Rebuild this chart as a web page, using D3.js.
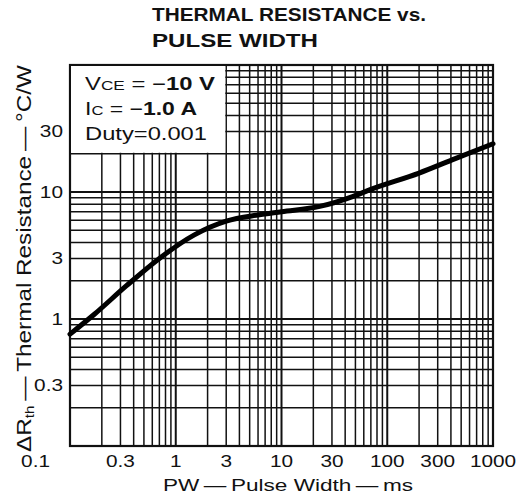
<!DOCTYPE html>
<html>
<head>
<meta charset="utf-8">
<script src="https://cdn.jsdelivr.net/npm/d3@7"></script>
<style>
  body { margin: 0; background: #fff; }
  text { font-family: "Liberation Sans", Arial, sans-serif; fill: #111; }
</style>
</head>
<body>
<div id="graph"></div>
<script>
// Curve (pulse width in ms, thermal resistance in °C/W)
const pulseWidth = [0.1, 0.17, 0.34, 0.7, 1.5, 3, 6, 10, 23, 47, 68, 200, 410, 1000];
const thermalRes = [0.76, 1.09, 1.82, 3.0, 4.6, 5.9, 6.6, 7.0, 7.7, 9.2, 10.4, 14.1, 17.9, 24];

const xTickLabels = ["0.3", "1", "3", "10", "30", "100", "300", "1000"];
const yTickLabels = ["0.3", "1", "3", "10", "30"];

const width = 521, height = 499;
const plotLeft = 70, plotRight = 493, plotTop = 65, plotBottom = 446;
const stretch = 1.3;   // the scanned sheet is wider than it is tall

var xscale = d3.scaleLog().domain([0.1, 1000]).range([plotLeft, plotRight]);
var yscale = d3.scaleLog().domain([0.1, 100]).range([plotBottom, plotTop]);

var chart = d3.select("#graph")
              .append("svg")
                .attr("width", width)
                .attr("height", height);

// grid lines 1..9 per decade
var xgrid = [], ygrid = [];
for (let e = -1; e < 3; e++)
  for (let m = 1; m < 10; m++) xgrid.push(m * Math.pow(10, e));
xgrid.push(1000);
for (let e = -1; e < 2; e++)
  for (let m = 1; m < 10; m++) ygrid.push(m * Math.pow(10, e));
ygrid.push(100);

function isDecade(d) {
  let l = Math.log10(d);
  return Math.abs(l - Math.round(l)) < 1e-9;
}

chart.selectAll(".vgrid")
     .data(xgrid)
     .enter()
       .append("line")
       .attr("x1", d => xscale(d)).attr("x2", d => xscale(d))
       .attr("y1", plotTop).attr("y2", plotBottom)
       .attr("stroke", "#111")
       .attr("stroke-width", d => (isDecade(d) ? 2 : 1.5));

chart.selectAll(".hgrid")
     .data(ygrid)
     .enter()
       .append("line")
       .attr("x1", plotLeft).attr("x2", plotRight)
       .attr("y1", d => yscale(d)).attr("y2", d => yscale(d))
       .attr("stroke", "#111")
       .attr("stroke-width", d => (isDecade(d) ? 2 : 1.5));

// frame
chart.append("rect")
     .attr("x", plotLeft).attr("y", plotTop)
     .attr("width", plotRight - plotLeft).attr("height", plotBottom - plotTop)
     .attr("fill", "none").attr("stroke", "#111").attr("stroke-width", 2.2);

// legend box (blank area top-left, bounded by 3 ms and 20 °C/W lines)
chart.append("rect")
     .attr("x", plotLeft + 1).attr("y", plotTop + 1)
     .attr("width", xscale(3) - plotLeft - 2)
     .attr("height", yscale(20) - plotTop - 2)
     .attr("fill", "#fff");

var legend = chart.append("g").style("font-size", "18px");
var l1 = legend.append("text").attr("x", 85).attr("y", 90).attr("textLength", 130).attr("lengthAdjust", "spacingAndGlyphs");
l1.append("tspan").text("V");
l1.append("tspan").style("font-size", "13px").text("CE");
l1.append("tspan").text(" = \u2212");
l1.append("tspan").style("font-weight", "bold").text("10 V");
var l2 = legend.append("text").attr("x", 85).attr("y", 115).attr("textLength", 112).attr("lengthAdjust", "spacingAndGlyphs");
l2.append("tspan").text("I");
l2.append("tspan").style("font-size", "13px").text("C");
l2.append("tspan").text(" = \u2212");
l2.append("tspan").style("font-weight", "bold").text("1.0 A");
legend.append("text").attr("x", 85).attr("y", 140)
      .attr("textLength", 122).attr("lengthAdjust", "spacingAndGlyphs")
      .text("Duty=0.001");

// curve
var line = d3.line()
             .x((d, i) => xscale(pulseWidth[i]))
             .y(d => yscale(d))
             .curve(d3.curveMonotoneX);

chart.append("path")
     .datum(thermalRes)
     .attr("d", line)
     .attr("fill", "none")
     .attr("stroke", "#000")
     .attr("stroke-width", 5)
     .attr("stroke-linecap", "round");

// tick labels, widened like the scan
chart.selectAll(".xlab")
     .data(xTickLabels)
     .enter()
       .append("text")
       .attr("transform", d => "translate(" + xscale(+d) + ",467) scale(" + stretch + ",1)")
       .attr("text-anchor", "middle")
       .style("font-size", "16px")
       .text(d => d);

chart.selectAll(".ylab")
     .data(yTickLabels)
     .enter()
       .append("text")
       .attr("transform", d => "translate(63," + (yscale(+d) + 6) + ") scale(" + stretch + ",1)")
       .attr("text-anchor", "end")
       .style("font-size", "16px")
       .text(d => d);

chart.append("text")
     .attr("transform", "translate(50,467) scale(" + stretch + ",1)")
     .attr("text-anchor", "end")
     .style("font-size", "16px")
     .text("0.1");

// axis titles
chart.append("text")
     .attr("x", 163).attr("y", 491)
     .attr("textLength", 250).attr("lengthAdjust", "spacingAndGlyphs")
     .style("font-size", "16px")
     .text("PW\u2009\u2014\u2009Pulse Width\u2009\u2014\u2009ms");

var ylab = chart.append("text")
     .attr("transform", "translate(31,452) rotate(-90)")
     .attr("textLength", 387).attr("lengthAdjust", "spacingAndGlyphs")
     .style("font-size", "21px");
ylab.append("tspan").text("\u0394R");
ylab.append("tspan").style("font-size", "13px").attr("dy", 3).text("th");
ylab.append("tspan").attr("dy", -3).text("\u2009\u2014\u2009Thermal Resistance\u2009\u2014\u2009\u00B0C/W");

// title
var title = chart.append("g").style("font-size", "19px").style("font-weight", "bold");
title.append("text").attr("x", 152).attr("y", 21)
     .attr("textLength", 274).attr("lengthAdjust", "spacingAndGlyphs")
     .text("THERMAL RESISTANCE vs.");
title.append("text").attr("x", 152).attr("y", 47)
     .attr("textLength", 166).attr("lengthAdjust", "spacingAndGlyphs")
     .text("PULSE WIDTH");
</script>
</body>
</html>
